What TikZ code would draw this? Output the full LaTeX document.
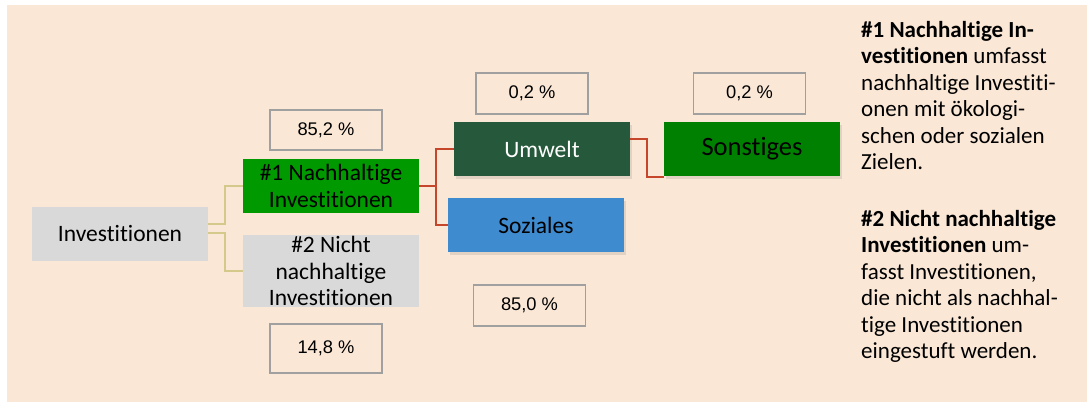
\documentclass[tikz,border=0pt]{standalone}
\usepackage{fontspec}
\setmainfont{Carlito}[Ligatures=NoCommon]
\newfontfamily\arialfont{Liberation Sans}
\usetikzlibrary{shadows}

\definecolor{bgbeige}{RGB}{250,231,214}
\definecolor{boxgray}{RGB}{217,217,217}
\definecolor{nhgreen}{RGB}{0,153,0}
\definecolor{songreen}{RGB}{0,128,0}
\definecolor{umwgreen}{RGB}{38,88,59}
\definecolor{sozblue}{RGB}{62,139,208}
\definecolor{ylink}{RGB}{212,201,138}
\definecolor{rlink}{RGB}{197,70,43}
\definecolor{pctgray}{RGB}{160,160,160}

\begin{document}
\begin{tikzpicture}[x=1pt,y=-1pt]
      \tikzset{cat box/.style={inner sep=0pt,
          outer sep=0pt,
          minimum width=176pt,
          minimum height=54pt,
          align=center,
          fill=#1,
          font=\fontsize{23.5}{26.5}\selectfont},
        pct box/.style={draw=pctgray,
          line width=1.1pt,
          inner sep=0pt,
          minimum width=112pt,
          minimum height=#1,
          font=\arialfont\fontsize{18.3}{21}\selectfont},
        shade box/.style={drop shadow={shadow xshift=1.5pt,shadow yshift=-3pt,opacity=0.2}},
        link y/.style={draw=ylink,line width=2pt},
        link r/.style={draw=rlink,line width=2pt}
      }
      \useasboundingbox (0,0) rectangle (1087,403);
      \fill [bgbeige] (7,5) rectangle (1087,402);

      \node [cat box=boxgray] (inv) at (120,234) {Investitionen};
      \node [cat box=nhgreen] (nh) at (331,186) {\#1 Nachhaltige\\Investitionen};
      \node [cat box=boxgray,minimum height=72pt] (nnh) at (331,271) {\#2 Nicht\\nachhaltige\\Investitionen};
      \node [cat box=umwgreen,shade box,text=white] (umw) at (542,149) {Umwelt};
      \node [cat box=sozblue,shade box] (soz) at (536,225) {Soziales};
      \node [cat box=songreen,shade box,font=\fontsize{26.5}{28}\selectfont] (son) at (752,149) {Sonstiges};

      \node [pct box=40pt] (pnh) at (326,130) {85,2 \%};
      \node [pct box=49pt] (pnnh) at (326,348.5) {14,8 \%};
      \node [pct box=41pt] (pumw) at (532,93.5) {0,2 \%};
      \node [pct box=41pt] (pson) at (749.5,93.5) {0,2 \%};
      \node [pct box=41pt] (psoz) at (529.5,305.5) {85,0 \%};

      \draw [link y] ([yshift=10pt]inv.east) -- ++(17,0) |- (nh.west);
      \draw [link y] ([yshift=1pt]inv.east) -- ++(17,0) |- (nnh.west);
      \draw [link r] (nh.east) -- ++(17,0) coordinate (J);
      \draw [link r] (J) |- (umw.west);
      \draw [link r] (J) |- (soz.west);
      \draw [link r] ([yshift=10pt]umw.east) -- ++(17,0) |- ([yshift=-1pt]son.south west);

      \node [anchor=north west,inner sep=0pt,align=left,
        font=\fontsize{23}{26.5}\selectfont] (desc1) at (861,18.5)
        {\strut\textbf{\#1 Nachhaltige In-}\\\textbf{vestitionen} umfasst\\nachhaltige Investiti-\\onen mit ökologi-\\schen oder sozialen\\Zielen.};
      \node [anchor=north west,inner sep=0pt,align=left,
        font=\fontsize{23}{26.5}\selectfont] (desc2) at (861,207.5)
        {\strut\textbf{\#2 Nicht nachhaltige}\\\textbf{Investitionen} um-\\fasst Investitionen,\\die nicht als nachhal-\\tige Investitionen\\eingestuft werden.};
\end{tikzpicture}
\end{document}
